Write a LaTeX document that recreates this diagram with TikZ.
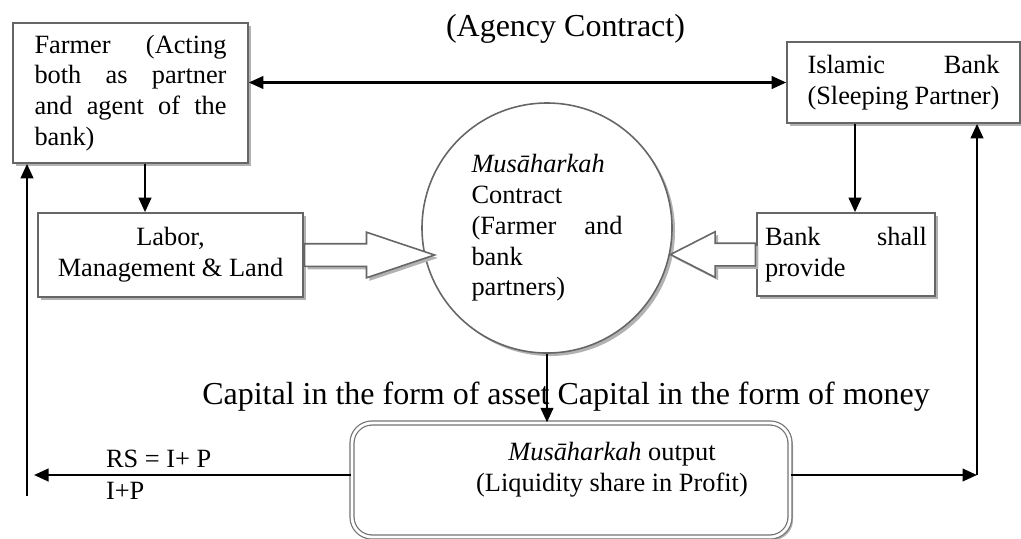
\documentclass[tikz,border=0pt]{standalone}
\usepackage{fontspec}
\setmainfont{Liberation Serif}
\usepackage{tikz}
\usetikzlibrary{arrows.meta, positioning, shapes.arrows, shadows}

\begin{document}
\begin{tikzpicture}[
        every node/.style={font=\fontsize{15}{17.5}\selectfont},
        shade/.style={drop shadow={shadow xshift=0.06cm, shadow yshift=-0.06cm, fill=black!30, opacity=1}},
        box/.style={draw=black!60, line width=0.9pt, fill=white, rectangle, inner sep=0pt, shade},
        outbox/.style={draw=black!55, line width=0.7pt, double=white, double distance=1.6pt, fill=white, rounded corners=0.4cm, shade},
        bubble/.style={draw=black!60, line width=0.9pt, fill=white, circle, inner sep=0pt, minimum size=5cm, shade},
        hollow/.style={single arrow, draw=black!60, line width=0.9pt, fill=white, inner xsep=0pt, inner ysep=0.21cm, minimum width=0.88cm, single arrow head extend=0.23cm, shade},
        caption/.style={font=\fontsize{18.2}{22}\selectfont},
        flow/.style={-{Triangle[length=0.29cm, width=0.25cm]}, line width=1.4pt},
        dataflow/.style={{Triangle[length=0.29cm, width=0.25cm]}-{Triangle[length=0.29cm, width=0.25cm]}, line width=1.4pt}
    ]
    \useasboundingbox (0,0) rectangle (20.42,-10.76);

    % partners
    \node[box, minimum width=4.7cm, minimum height=2.8cm, text width=3.84cm, align=justify] (farmer) at (2.61,-1.86)
        {Farmer (Acting\linebreak both as partner\linebreak and agent of the\linebreak bank)};
    \node[box, minimum width=4.66cm, minimum height=1.62cm, text width=3.84cm, align=justify] (bank) at (18.07,-1.65)
        {Islamic Bank\linebreak (Sleeping Partner)};
    \node[caption] (agency) at (11.31,-0.58) {(Agency Contract)};
    \draw[dataflow] (farmer.east |- bank.west) -- (bank.west);

    % contributions
    \node[box, minimum width=5.3cm, minimum height=1.68cm, align=center] (labor) at (3.41,-5.1)
        {Labor,\\ Management \& Land};
    \node[box, minimum width=3.56cm, minimum height=1.66cm, text width=3.24cm, align=left] (provide) at (16.92,-5.09)
        {Bank\hfill shall\hspace*{0.3cm}\\ provide};
    \draw[flow] ([xshift=0.29cm]farmer.south) -- ([xshift=0.29cm]farmer.south |- labor.north);
    \draw[flow] ([xshift=0.18cm]provide.north |- bank.south) -- ([xshift=0.18cm]provide.north);

    % Musaharkah contract
    \node[bubble, text width=3.02cm, align=justify] (contract) at (10.94,-4.56)
        {\textit{Musāharkah}\newline Contract\newline (Farmer and\linebreak bank\newline partners)};
    \node[hollow, right=0pt of labor, minimum height=2.6cm, single arrow tip angle=37] (laborarrow) {};
    \node[hollow, left=0pt of provide, minimum height=1.7cm, single arrow tip angle=54, shape border rotate=180] (providearrow) {};

    % output
    \node[caption] (capital) at (11.32,-7.94) {Capital in the form of asset Capital in the form of money};
    \node[outbox, minimum width=8.76cm, minimum height=2.28cm] (output) at (11.42,-9.6) {};
    \node[align=center] (outtext) at ([xshift=0.82cm, yshift=0.2cm]output.center)
        {\textit{Musāharkah} output\\ (Liquidity share in Profit)};
    \draw[flow] (contract.south) -- (contract.south |- output.north);

    % returns
    \coordinate (leftbase) at (0.54,-9.92);
    \coordinate (rsend) at (0.68,-9.5);
    \coordinate (rightbase) at (19.54,-9.5);
    \draw[flow] (output.west |- rsend) -- (rsend)
        node[pos=0.777, anchor=south west, inner xsep=0pt] (rs) {RS = I+ P}
        node[pos=0.777, anchor=north west, inner xsep=0pt] (ip) {I+P};
    \draw[flow] (leftbase) -- (leftbase |- farmer.south);
    \draw[flow] (output.east |- rightbase) -- (rightbase);
    \draw[flow] (rightbase) -- (rightbase |- bank.south);

\end{tikzpicture}
\end{document}
